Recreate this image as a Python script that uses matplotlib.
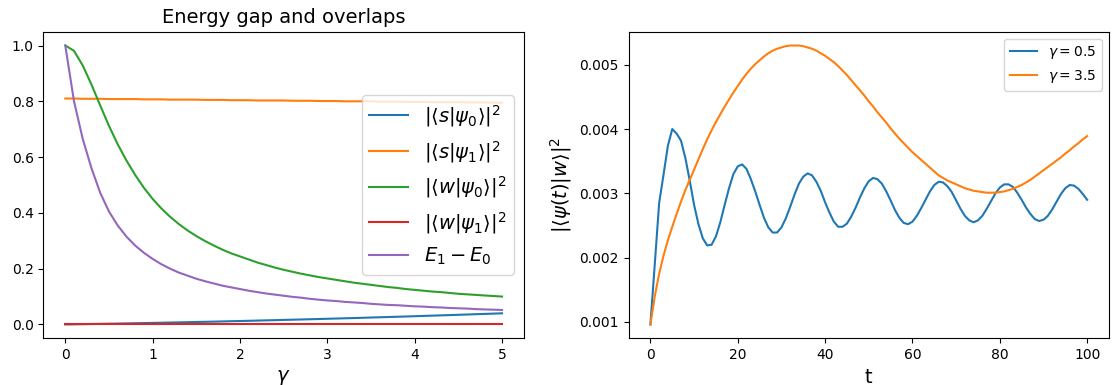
import numpy as np
import matplotlib
matplotlib.use("Agg")
import matplotlib.pyplot as plt

# left panel: overlaps and gap vs gamma (step 0.1)
gamma = np.round(np.arange(0, 5.01, 0.1), 1)

s_psi0 = [0.0, 0.0005, 0.0010, 0.0016, 0.0021, 0.0027, 0.0032, 0.0038, 0.0044, 0.0050,
          0.0056, 0.0062, 0.0069, 0.0075, 0.0082, 0.0089, 0.0095, 0.0102, 0.0109, 0.0117,
          0.0124, 0.0131, 0.0139, 0.0147, 0.0155, 0.0163, 0.0171, 0.0179, 0.0187, 0.0195,
          0.0204, 0.0213, 0.0221, 0.0230, 0.0239, 0.0249, 0.0258, 0.0267, 0.0277, 0.0286,
          0.0296, 0.0306, 0.0316, 0.0326, 0.0336, 0.0347, 0.0357, 0.0368, 0.0378, 0.0389,
          0.0400]
s_psi1 = [0.810, 0.810, 0.809, 0.809, 0.809, 0.808, 0.808, 0.808, 0.808, 0.807,
          0.807, 0.807, 0.806, 0.806, 0.806, 0.806, 0.805, 0.805, 0.805, 0.804,
          0.804, 0.804, 0.803, 0.803, 0.803, 0.803, 0.802, 0.802, 0.802, 0.801,
          0.801, 0.801, 0.800, 0.800, 0.800, 0.800, 0.799, 0.799, 0.799, 0.798,
          0.798, 0.798, 0.797, 0.797, 0.797, 0.797, 0.796, 0.796, 0.796, 0.795,
          0.795]
w_psi0 = [1.000, 0.981, 0.928, 0.860, 0.785, 0.712, 0.646, 0.588, 0.536, 0.490,
          0.450, 0.416, 0.386, 0.360, 0.337, 0.317, 0.299, 0.283, 0.268, 0.255,
          0.244, 0.233, 0.222, 0.213, 0.204, 0.196, 0.189, 0.182, 0.176, 0.170,
          0.165, 0.160, 0.155, 0.150, 0.146, 0.142, 0.138, 0.134, 0.131, 0.127,
          0.124, 0.121, 0.118, 0.116, 0.113, 0.110, 0.108, 0.106, 0.104, 0.102,
          0.100]
w_psi1 = [0.0] * 51
gap = [1.000, 0.800, 0.665, 0.560, 0.472, 0.405, 0.355, 0.315, 0.283, 0.257,
       0.235, 0.216, 0.200, 0.186, 0.175, 0.164, 0.155, 0.147, 0.139, 0.133,
       0.127, 0.121, 0.116, 0.111, 0.107, 0.103, 0.099, 0.096, 0.092, 0.089,
       0.086, 0.084, 0.081, 0.079, 0.077, 0.074, 0.072, 0.070, 0.069, 0.067,
       0.065, 0.064, 0.062, 0.061, 0.059, 0.058, 0.057, 0.055, 0.054, 0.053,
       0.052]

# right panel: |<psi(t)|w>|^2 vs t
t = np.arange(0, 101)
p_g05 = [0.00096, 0.00190, 0.00285, 0.00329, 0.00374, 0.00400, 0.00393, 0.00382, 0.00355, 0.00320,
         0.00282, 0.00252, 0.00230, 0.00219, 0.00220, 0.00233, 0.00255, 0.00282, 0.00308, 0.00330,
         0.00342, 0.00345, 0.00338, 0.00322, 0.00303, 0.00282, 0.00262, 0.00247, 0.00239, 0.00239,
         0.00247, 0.00261, 0.00279, 0.00298, 0.00315, 0.00326, 0.00331, 0.00328, 0.00318, 0.00304,
         0.00286, 0.00270, 0.00256, 0.00248, 0.00248, 0.00253, 0.00264, 0.00278, 0.00294, 0.00308,
         0.00319, 0.00324, 0.00322, 0.00315, 0.00303, 0.00289, 0.00274, 0.00262, 0.00254, 0.00252,
         0.00256, 0.00265, 0.00277, 0.00290, 0.00303, 0.00313, 0.00318, 0.00317, 0.00311, 0.00302,
         0.00289, 0.00276, 0.00265, 0.00258, 0.00255, 0.00258, 0.00265, 0.00276, 0.00288, 0.00300,
         0.00309, 0.00314, 0.00314, 0.00310, 0.00301, 0.00290, 0.00278, 0.00268, 0.00260, 0.00257,
         0.00259, 0.00265, 0.00275, 0.00287, 0.00299, 0.00308, 0.00313, 0.00312, 0.00307, 0.00299,
         0.00290]
p_g35 = [0.00096, 0.00140, 0.00175, 0.00203, 0.00227, 0.00248, 0.00268, 0.00287, 0.00305, 0.00321,
         0.00337, 0.00353, 0.00369, 0.00384, 0.00398, 0.00411, 0.00423, 0.00435, 0.00446, 0.00457,
         0.00467, 0.00477, 0.00486, 0.00494, 0.00501, 0.00507, 0.00513, 0.00518, 0.00522, 0.00525,
         0.00527, 0.00529, 0.00530, 0.00530, 0.00530, 0.00529, 0.00527, 0.00525, 0.00522, 0.00518,
         0.00514, 0.00509, 0.00504, 0.00498, 0.00491, 0.00484, 0.00476, 0.00468, 0.00460, 0.00452,
         0.00443, 0.00435, 0.00426, 0.00418, 0.00410, 0.00401, 0.00393, 0.00385, 0.00378, 0.00371,
         0.00364, 0.00358, 0.00352, 0.00346, 0.00340, 0.00334, 0.00328, 0.00324, 0.00320, 0.00317,
         0.00314, 0.00311, 0.00308, 0.00306, 0.00304, 0.00303, 0.00302, 0.00301, 0.00301, 0.00301,
         0.00302, 0.00303, 0.00305, 0.00307, 0.00310, 0.00313, 0.00317, 0.00321, 0.00326, 0.00331,
         0.00336, 0.00341, 0.00346, 0.00351, 0.00356, 0.00362, 0.00367, 0.00373, 0.00378, 0.00384,
         0.00389]

fig, (ax1, ax2) = plt.subplots(1, 2, figsize=(11.14, 3.85), dpi=100)
fig.subplots_adjust(left=0.039, right=0.9955, bottom=0.121, top=0.918, wspace=0.218)

ax1.plot(gamma, s_psi0, label=r"$|\langle s|\psi_0\rangle|^2$")
ax1.plot(gamma, s_psi1, label=r"$|\langle s|\psi_1\rangle|^2$")
ax1.plot(gamma, w_psi0, label=r"$|\langle w|\psi_0\rangle|^2$")
ax1.plot(gamma, w_psi1, label=r"$|\langle w|\psi_1\rangle|^2$")
ax1.plot(gamma, gap, label=r"$E_1 - E_0$")
ax1.set_title("Energy gap and overlaps", fontsize=14)
ax1.set_xlabel(r"$\gamma$", fontsize=14)
ax1.legend(loc="center right", fontsize=14)

ax2.plot(t, p_g05, label=r"$\gamma = 0.5$")
ax2.plot(t, p_g35, label=r"$\gamma = 3.5$")
ax2.set_xlabel("t", fontsize=14)
ax2.set_ylabel(r"$|\langle\psi(t)|w\rangle|^2$", fontsize=14)
ax2.legend(loc="upper right")

fig.savefig("out.png")
